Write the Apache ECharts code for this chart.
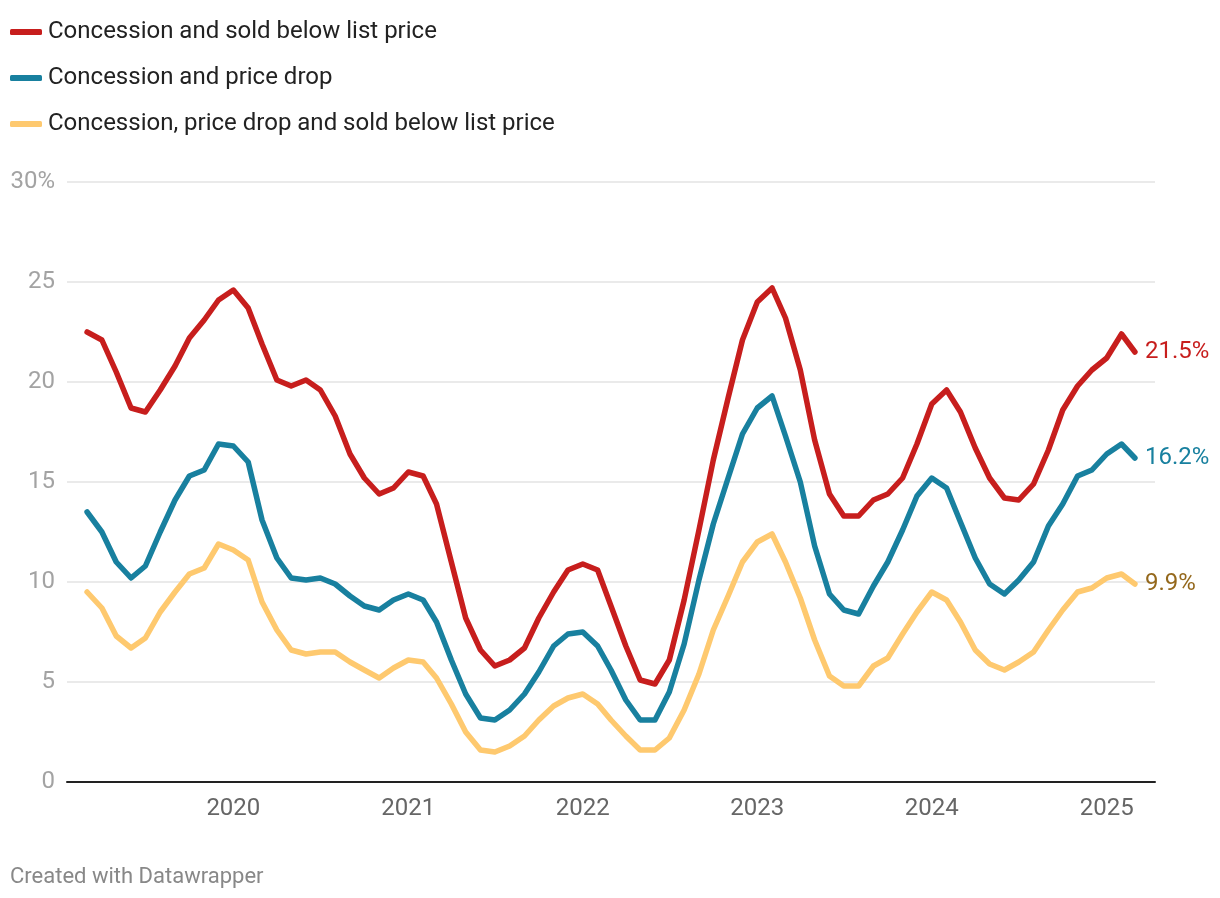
<!DOCTYPE html>
<html>
<head>
<meta charset="utf-8">
<script src="https://cdn.jsdelivr.net/npm/echarts@6/dist/echarts.min.js"></script>
<style>
html,body{margin:0;padding:0;background:#fff;}
#c{width:1220px;height:898px;}
</style>
</head>
<body>
<div id="c"></div>
<script>
// Monthly data, March 2019 – March 2025
const startYear = 2019, startMonth = 2; // March (0-based)
const seriesNames = [
  'Concession and sold below list price',
  'Concession and price drop',
  'Concession, price drop and sold below list price'
];
const soldBelowList = [
  22.5, 22.1, 20.5, 18.7, 18.5, 19.6, 20.8, 22.2, 23.1, 24.1,
  24.6, 23.7, 21.9, 20.1, 19.8, 20.1, 19.6, 18.3, 16.4, 15.2, 14.4, 14.7,
  15.5, 15.3, 13.9, 11.0, 8.2, 6.6, 5.8, 6.1, 6.7, 8.2, 9.5, 10.6,
  10.9, 10.6, 8.8, 6.8, 5.1, 4.9, 6.1, 9.1, 12.6, 16.1, 19.2, 22.1,
  24.0, 24.7, 23.2, 20.6, 17.1, 14.4, 13.3, 13.3, 14.1, 14.4, 15.2, 16.9,
  18.9, 19.6, 18.5, 16.7, 15.2, 14.2, 14.1, 14.9, 16.6, 18.6, 19.8, 20.6,
  21.2, 22.4, 21.5
];
const priceDrop = [
  13.5, 12.5, 11.0, 10.2, 10.8, 12.5, 14.1, 15.3, 15.6, 16.9,
  16.8, 16.0, 13.1, 11.2, 10.2, 10.1, 10.2, 9.9, 9.3, 8.8, 8.6, 9.1,
  9.4, 9.1, 8.0, 6.1, 4.4, 3.2, 3.1, 3.6, 4.4, 5.5, 6.8, 7.4,
  7.5, 6.8, 5.6, 4.1, 3.1, 3.1, 4.5, 6.9, 10.1, 12.9, 15.2, 17.4,
  18.7, 19.3, 17.3, 15.0, 11.8, 9.4, 8.6, 8.4, 9.8, 11.0, 12.6, 14.3,
  15.2, 14.7, 13.0, 11.2, 9.9, 9.4, 10.1, 11.0, 12.8, 13.9, 15.3, 15.6,
  16.4, 16.9, 16.2
];
const allThree = [
  9.5, 8.7, 7.3, 6.7, 7.2, 8.5, 9.5, 10.4, 10.7, 11.9,
  11.6, 11.1, 9.0, 7.6, 6.6, 6.4, 6.5, 6.5, 6.0, 5.6, 5.2, 5.7,
  6.1, 6.0, 5.2, 3.9, 2.5, 1.6, 1.5, 1.8, 2.3, 3.1, 3.8, 4.2,
  4.4, 3.9, 3.1, 2.3, 1.6, 1.6, 2.2, 3.6, 5.4, 7.6, 9.3, 11.0,
  12.0, 12.4, 11.0, 9.2, 7.1, 5.3, 4.8, 4.8, 5.8, 6.2, 7.4, 8.5,
  9.5, 9.1, 8.0, 6.6, 5.9, 5.6, 6.0, 6.5, 7.6, 8.6, 9.5, 9.7,
  10.2, 10.4, 9.9
];
const yTicks = [0, 5, 10, 15, 20, 25, 30];

const dates = soldBelowList.map((_, i) => new Date(startYear, startMonth + i, 1).getTime());
const pair = arr => arr.map((v, i) => [dates[i], v]);

const colors = ['#c71e1d', '#18809f', '#fec96f'];
const labelColors = ['#c71e1d', '#18809f', '#94681c'];
const FONT = 'Roboto, "Noto Sans", sans-serif';

const chart = echarts.init(document.getElementById('c'));
const DAY = 24 * 3600 * 1000;
chart.setOption({
  animation: false,
  color: colors,
  textStyle: { fontFamily: FONT },
  legend: {
    orient: 'vertical',
    left: 10,
    top: 18,
    padding: 0,
    itemGap: 18,
    itemWidth: 32,
    itemHeight: 6,
    icon: 'roundRect',
    selectedMode: false,
    textStyle: { fontSize: 24, color: '#222', lineHeight: 28, fontFamily: FONT, padding: [0, 0, 0, 1] },
    data: seriesNames
  },
  grid: { left: 67, right: 65, top: 182, bottom: 116 },
  xAxis: {
    type: 'time',
    min: new Date(2019, 0, 18).getTime(),
    max: new Date(2025, 3, 12).getTime(),
    minInterval: 360 * DAY,
    maxInterval: 370 * DAY,
    axisLine: { show: true, lineStyle: { color: '#222', width: 2 } },
    axisTick: { show: false },
    splitLine: { show: false },
    axisLabel: {
      color: '#666',
      fontSize: 24,
      margin: 15,
      showMinLabel: false,
      showMaxLabel: false,
      fontFamily: FONT,
      formatter: function (v) {
        const d = new Date(v);
        return d.getMonth() === 0 ? String(d.getFullYear()) : '';
      }
    }
  },
  yAxis: {
    type: 'value',
    min: 0,
    max: 30,
    interval: 5,
    axisLine: { show: false },
    axisTick: { show: false },
    splitLine: { show: true, lineStyle: { color: '#e3e3e3', width: 1.5 } },
    axisLabel: {
      color: '#a3a3a3',
      fontSize: 24,
      margin: 12,
      fontFamily: FONT,
      formatter: function (v) {
        return v === yTicks[yTicks.length - 1] ? v + '%' : String(v);
      }
    }
  },
  series: [soldBelowList, priceDrop, allThree].map((arr, k) => ({
    name: seriesNames[k],
    type: 'line',
    data: pair(arr),
    showSymbol: false,
    symbol: 'none',
    z: 3 - k,
    lineStyle: { width: 5.5, color: colors[k], cap: 'round', join: 'round' },
    itemStyle: { color: colors[k] },
    endLabel: {
      show: true,
      distance: 10,
      fontSize: 24,
      color: labelColors[k],
      fontFamily: FONT,
      formatter: p => p.value[1].toFixed(1) + '%'
    },
    emphasis: { disabled: true }
  })),
  graphic: [{
    type: 'text',
    left: 10,
    top: 866,
    style: { text: 'Created with Datawrapper', fill: '#888', fontSize: 22, fontFamily: FONT }
  }]
});
</script>
</body>
</html>
